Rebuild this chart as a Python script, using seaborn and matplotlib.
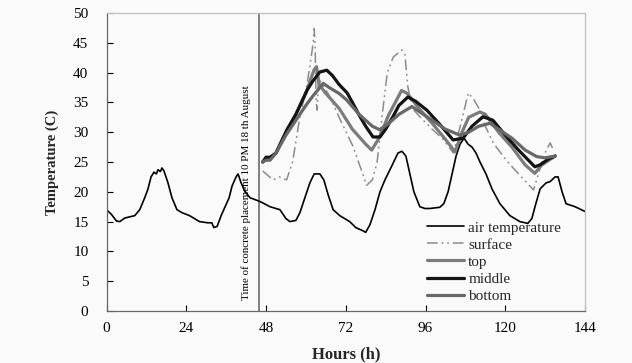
import matplotlib
matplotlib.use("Agg")
import matplotlib.pyplot as plt
import seaborn as sns

# ---------------- data ----------------
air_hours = [0, 1.5, 3, 4, 5.5, 8.5, 10, 11.5, 12.5, 13.4,
             14.3, 15, 15.5, 16.2, 16.7, 17.3, 18.5, 19.7, 21.2, 22.7,
             25, 28, 30.5, 31.7, 32.3, 33.3, 34.5, 35.7, 36.9, 37.8,
             39, 39.6, 40.5, 41.7, 43.2, 45.6, 46.8, 49.2, 52.2, 54,
             55.2, 57, 58.2, 59.7, 61.2, 62.5, 64.2, 65.4, 66.7, 68.2,
             70.2, 73.2, 75, 77, 78, 79.3, 80.8, 82.3, 83.8, 86,
             87.7, 88.9, 90.1, 91.3, 92.5, 94.3, 95.8, 97.3, 100.3, 101.5,
             102.8, 104, 105.2, 106.4, 107.6, 108.8, 110, 111.2, 112.4, 114.2,
             116, 118.4, 121.4, 124.4, 126.8, 128, 129.2, 130.5, 132.3, 133.5,
             135, 135.9, 137.1, 138.3, 141, 144]
air_temp = [17.0, 16.2, 15.1, 15.0, 15.6, 16.0, 17.0, 19.0, 20.5, 22.5,
            23.3, 23.0, 23.7, 23.4, 24.0, 23.5, 21.5, 19.0, 17.0, 16.5,
            16.0, 15.0, 14.8, 14.8, 14.0, 14.2, 16.0, 17.5, 19.0, 21.0,
            22.5, 23.0, 21.5, 20.0, 19.0, 18.5, 18.2, 17.5, 17.0, 15.5,
            15.0, 15.2, 16.5, 19.0, 21.5, 23.0, 23.0, 22.0, 19.5, 17.0,
            16.0, 15.0, 14.0, 13.5, 13.2, 14.5, 17.0, 20.0, 22.0, 24.5,
            26.5, 26.8, 26.0, 23.0, 20.0, 17.5, 17.2, 17.2, 17.4, 18.0,
            20.0, 23.0, 26.0, 28.0, 29.0, 28.0, 27.5, 26.5, 25.0, 23.0,
            20.5, 18.0, 16.0, 15.0, 14.7, 15.5, 18.0, 20.5, 21.5, 21.7,
            22.5, 22.5, 20.0, 18.0, 17.5, 16.7]

surf_hours = [47, 48, 50.2, 52, 54.2, 56, 58.2, 60, 61.2, 62.2,
              62.5, 62.8, 63.1, 63.4, 63.8, 65, 67.2, 70, 74.2, 78.3,
              80, 81.4, 83, 84.5, 86.3, 88.9, 89.8, 90.7, 92, 94.3,
              98, 101, 104.4, 106.4, 108.9, 110.5, 112.4, 114, 116.4, 120,
              124, 128.5, 130, 131.5, 133.5, 134.5]
surf_temp = [23.5, 23, 22, 22.5, 22, 25, 32.6, 37, 41, 45,
             47.4, 44, 35, 33.7, 39, 38, 36, 32.5, 27.6, 21.1,
             22, 24.8, 33, 40, 42.6, 43.8, 43, 37.6, 34, 32.6,
             30.5, 29, 26.5, 30.9, 36.6, 35.5, 33.7, 31, 28.2, 25.5,
             23, 20.3, 23, 26, 28.2, 27]

top_hours = [47, 48, 49.2, 51, 54, 57, 60, 61.5, 62.5, 63.2,
             64, 66, 70, 74, 78, 79.8, 82, 85, 88.8, 90.5,
             94, 98, 102, 104.9, 107, 109, 112.4, 114, 118, 122,
             126, 128.9, 131, 135]
top_temp = [25.0, 25.5, 25.5, 26.5, 30, 33, 36.5, 39, 40.5, 41,
            38, 36.5, 34, 30.5, 28, 27, 29, 33, 37, 36.5,
            34, 31.5, 28.8, 26.7, 30, 32.5, 33.4, 33, 30, 27.5,
            24.5, 23.1, 24.5, 26]

mid_hours = [47, 48, 49.2, 51, 54.3, 57, 60.3, 62, 64.2, 66.3,
             68, 70, 72.4, 74, 76.3, 78, 80.2, 82.3, 84, 86.2,
             88, 90.7, 93, 96.4, 100, 104.3, 107.3, 110, 113.3, 116.3,
             120, 124, 128.9, 130.4, 133, 135]
mid_temp = [25.0, 25.8, 25.8, 26.5, 30.4, 33, 37, 38.5, 40.1, 40.4,
            39.5, 38, 36.6, 35, 32.6, 31, 29.2, 29.2, 30.5, 32.6,
            34.5, 35.9, 35.2, 33.7, 31.5, 28.7, 29, 31, 32.6, 32,
            29.5, 27, 24.2, 24.5, 25.5, 26]

bot_hours = [47, 48, 49.2, 51, 54, 57, 60, 62, 63.5, 65.2,
             67, 70, 72.3, 76, 80, 82.3, 85, 88, 91.9, 94,
             98, 102, 106.4, 109, 112, 115.4, 118, 122, 126, 129.5,
             132, 135]
bot_temp = [25, 25.3, 25.3, 26.5, 29.5, 32, 34.5, 36, 37, 38.2,
            37.5, 36.5, 35.4, 33, 31, 30.4, 31.5, 33, 34.3, 33.5,
            32, 30.5, 29.5, 30, 31, 31.5, 30.5, 29, 27, 25.9,
            25.7, 26]

placement_hour = 46
placement_text = "Time of concrete placement 10 PM 18 th August"
x_ticks = [0, 24, 48, 72, 96, 120, 144]
y_ticks = [0, 5, 10, 15, 20, 25, 30, 35, 40, 45, 50]

# ---------------- style ----------------
sns.set_style("ticks")
plt.rcParams["font.family"] = ["Liberation Serif", "DejaVu Serif"]

fig = plt.figure(figsize=(6.32, 3.63), dpi=100, facecolor="#fafafa")
ax = fig.add_axes([106.5 / 632, 52 / 363, (585 - 106.5) / 632, (311 - 13) / 363])
ax.set_facecolor("#fafafa")

sns.lineplot(x=air_hours, y=air_temp, ax=ax, color="black", linewidth=1.2,
             label="air temperature", estimator=None, sort=False)
sns.lineplot(x=surf_hours, y=surf_temp, ax=ax, color="#8c8c8c", linewidth=1.1,
             linestyle=(0, (7, 2.5, 1.2, 2.5, 1.2, 2.5)),
             label="surface", estimator=None, sort=False)
sns.lineplot(x=top_hours, y=top_temp, ax=ax, color="#7c7c7c", linewidth=2.3,
             label="top", estimator=None, sort=False)
sns.lineplot(x=mid_hours, y=mid_temp, ax=ax, color="#141414", linewidth=2.3,
             label="middle", estimator=None, sort=False)
sns.lineplot(x=bot_hours, y=bot_temp, ax=ax, color="#686868", linewidth=2.3,
             label="bottom", estimator=None, sort=False)

ax.axvline(placement_hour, color="#808080", linewidth=1.4, zorder=1)
ax.text(placement_hour - 4.0, 1.8, placement_text, rotation=90,
        ha="center", va="bottom", fontsize=7.9, color="black")

ax.set_xlim(0, 144)
ax.set_ylim(0, 50)
ax.set_xticks(x_ticks)
ax.set_yticks(y_ticks)
ax.tick_params(direction="in", length=4, labelsize=11, colors="black", width=0.8)
ax.tick_params(axis="x", pad=8)
ax.tick_params(axis="y", pad=13)
for s in ["left", "bottom"]:
    ax.spines[s].set_color("#666666")
for s in ["top", "right"]:
    ax.spines[s].set_visible(True)
    ax.spines[s].set_color("#c0c0c0")
for s in ax.spines.values():
    s.set_linewidth(0.9)

ax.set_xlabel("Hours (h)", fontsize=12, fontweight="bold", labelpad=8)
ax.set_ylabel("Temperature (C)", fontsize=10.5, fontweight="bold", labelpad=10)

leg = ax.legend(loc="upper left", bbox_to_anchor=(427 / 632, 1 - 221 / 363),
                bbox_transform=fig.transFigure, frameon=False, fontsize=11,
                handlelength=2.4, handletextpad=0.3, labelspacing=0.22,
                borderpad=0, borderaxespad=0)

fig.savefig("out.png", dpi=100, facecolor=fig.get_facecolor())
